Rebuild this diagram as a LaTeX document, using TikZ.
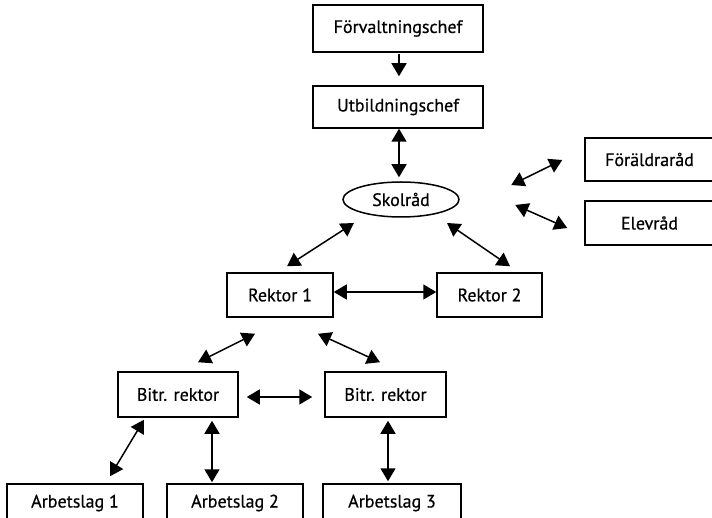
\documentclass[tikz,border=0pt]{standalone}
\usepackage{fontspec}
\setmainfont{PT Sans}[FakeBold=0.6]
\usetikzlibrary{arrows.meta,shapes.geometric,calc}
\tikzset{
  box/.style={draw=black,line width=1.5pt,rectangle,inner sep=0pt,font=\fontsize{18}{21}\selectfont},
  oval/.style={draw=black,line width=1.5pt,ellipse,inner sep=0pt,font=\fontsize{18}{21}\selectfont},
  conn/.style={line width=1.5pt,{Triangle[length=13pt,width=15pt]}-{Triangle[length=13pt,width=15pt]}},
  oneway/.style={line width=1.5pt,-{Triangle[length=13pt,width=15pt]}}
}
\begin{document}
\begin{tikzpicture}[x=1pt,y=-1pt]
\useasboundingbox (0,0) rectangle (712,518);
\clip (0,0) rectangle (712,518);
\node[box,minimum width=170pt,minimum height=47pt] (fc) at (398,28.5) {Förvaltningschef};
\node[box,minimum width=170pt,minimum height=42pt] (uc) at (398,107) {Utbildningschef};
\node[oval,minimum width=116pt,minimum height=35pt] (sk) at (401,199.5) {Skolråd};
\node[box,minimum width=129pt,minimum height=43pt] (fr) at (649.5,159.5) {Föräldraråd};
\node[box,minimum width=129pt,minimum height=44pt] (el) at (649.5,223) {Elevråd};
\node[box,minimum width=106pt,minimum height=44pt] (r1) at (280,295) {Rektor 1};
\node[box,minimum width=105pt,minimum height=44pt] (r2) at (489.5,295) {Rektor 2};
\node[box,minimum width=120pt,minimum height=45pt] (b1) at (178,394.5) {Bitr. rektor};
\node[box,minimum width=121pt,minimum height=45pt] (b2) at (385.5,394.5) {Bitr. rektor};
\node[box,minimum width=136pt,minimum height=38pt] (a1) at (75,503) {Arbetslag 1};
\node[box,minimum width=136pt,minimum height=38pt] (a2) at (235,503) {Arbetslag 2};
\node[box,minimum width=138pt,minimum height=38pt] (a3) at (392,503) {Arbetslag 3};

\draw[oneway] ($(fc.south)+(1,1)$) -- ($(uc.north)+(1,-9)$);
\draw[conn] ($(uc.south)+(1,0)$) -- ($(sk.north)+(-2,-4)$);
\draw[conn] ($(fr.west)+(-73,25.5)$) -- ($(fr.west)+(-22,0.5)$);
\draw[conn] ($(el.west)+(-69,-18)$) -- ($(el.west)+(-17,5)$);
\draw[conn] ($(r1.north)+(7,-6)$) -- ($(sk.center)+(-47,23.5)$);
\draw[conn] ($(sk.center)+(46,23.5)$) -- ($(r2.north)+(20.5,-6)$);
\draw[conn] ($(r1.east)+(0,-3)$) -- ($(r2.west)+(0,-3)$);
\draw[conn] ($(r1.south)+(-25,16)$) -- ($(b1.north)+(20,-9)$);
\draw[conn] ($(r1.south)+(38,16)$) -- ($(b2.north)+(-5.5,-9)$);
\draw[conn] ($(b1.east)+(8,2.5)$) -- ($(b2.west)+(-12,2.5)$);
\draw[conn] ($(b1.south)+(-34,2)$) -- ($(a1.north)+(35,-7)$);
\draw[conn] ($(b1.south)+(34,3)$) -- ($(a2.north)+(-23,-1)$);
\draw[conn] ($(b2.south)+(2.5,3)$) -- ($(a3.north)+(-4,-2)$);
\end{tikzpicture}
\end{document}
